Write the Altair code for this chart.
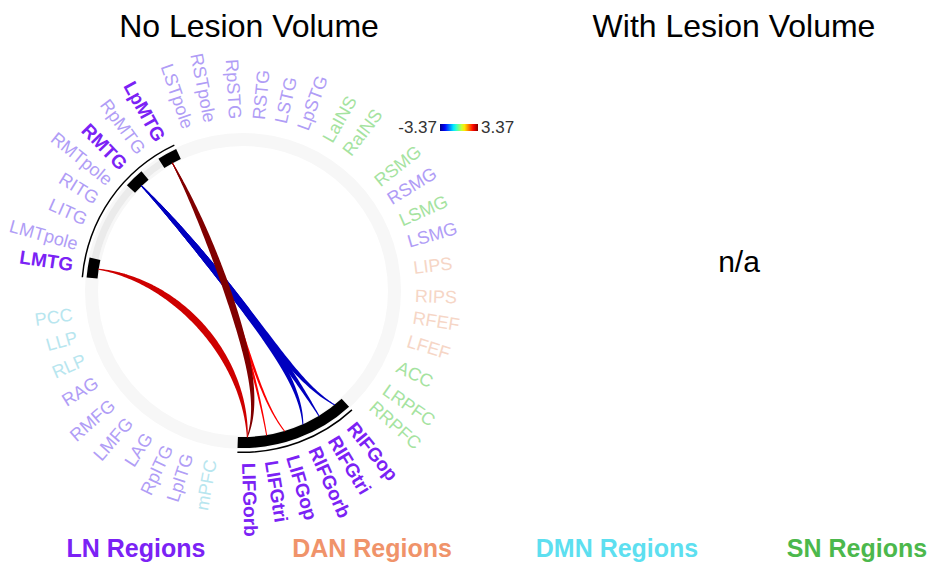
import numpy as np
import pandas as pd
import altair as alt

# ---------------- data ----------------
node_names = ["LMTG", "LMTpole", "LITG", "RITG", "RMTpole", "RMTG", "RpMTG", "LpMTG",
              "LSTpole", "RSTpole", "RpSTG", "RSTG", "LSTG", "LpSTG", "LaINS", "RaINS",
              "RSMG", "RSMG", "LSMG", "LSMG", "LIPS", "RIPS", "RFEF", "LFEF",
              "ACC", "LRPFC", "RRPFC", "RIFGop", "RIFGtri", "RIFGorb", "LIFGop", "LIFGtri",
              "LIFGorb", "mPFC", "LpITG", "RpITG", "LAG", "LMFG", "RMFG", "RAG",
              "RLP", "LLP", "PCC"]
node_network = ["LN"] * 14 + ["SN", "SN", "SN", "LN", "SN", "LN",
                "DAN", "DAN", "DAN", "DAN", "SN", "SN", "SN",
                "LN", "LN", "LN", "LN", "LN", "LN", "DMN",
                "LN", "LN", "LN", "LN", "LN", "LN", "DMN", "DMN", "DMN"]
# angular position of each node around the circle (degrees, counter-clockwise from east)
node_angle = [171.4, 164.6, 156.0, 148.3, 141.0, 134.0, 126.5, 118.9,
              109.0, 101.4, 93.0, 84.4, 77.0, 69.4, 60.3, 52.7,
              38.6, 31.6, 23.7, 16.2, 7.3, -2.0, -9.2, -17.2,
              -26.2, -34.9, -41.7, -51.2, -58.7, -65.8, -73.5, -80.7,
              -88.3, -100.4, -108.3, -115.4, -123.0, -130.9, -139.0, -148.0,
              -156.3, -164.2, -171.8]
involved_nodes = [0, 5, 7, 27, 28, 29, 30, 31, 32]
span_nodes = [(0, 7), (27, 32)]          # highlighted node ranges

edge_src = [5, 5, 5, 7, 7, 7, 0]
edge_tgt = [29, 28, 27, 31, 30, 32, 32]
edge_val = [-2.95, -2.95, -2.95, 2.55, 2.55, 3.37, 2.85]

cmin, cmax = -3.37, 3.37
legend_names = ["LN Regions", "DAN Regions", "DMN Regions", "SN Regions"]

# ---------------- styles ----------------
strong = {"LN": "#7b22f5", "DAN": "#f0936a", "DMN": "#5ddff0", "SN": "#4cb84c"}
light = {"LN": "#b09df6", "DAN": "#f6d6c6", "DMN": "#b8e6ef", "SN": "#a5e3a0"}
FONT = "Liberation Sans"
R_IN, R_OUT = 146.0, 157.0
R_LABEL = 172.0
HALF = 3.7

W, H = 919, 554
CX, CY = 235, 283   # pixel position of the circle centre
xs = alt.Scale(domain=[-CX, W - CX], nice=False, zero=False)
ys = alt.Scale(domain=[CY - H, CY], nice=False, zero=False)
ts = alt.Scale(domain=[0, 360], range=[0, 2 * np.pi])


def vtheta(a):
    return (90.0 - a) % 360.0


# ---------------- nodes / labels ----------------
nodes = pd.DataFrame({"name": node_names, "net": node_network, "ang": node_angle})
nodes["idx"] = range(len(nodes))
nodes["bold"] = nodes["idx"].isin(involved_nodes)
rad = np.deg2rad(nodes["ang"])
nodes["x"] = R_LABEL * np.cos(rad)
nodes["y"] = R_LABEL * np.sin(rad)
nodes["right"] = np.cos(rad) >= -1e-9
nodes["rot"] = np.where(nodes["right"], (-nodes["ang"]) % 360, (180 - nodes["ang"]) % 360)
nodes["col"] = [strong[n] if b else light[n] for n, b in zip(nodes["net"], nodes["bold"])]


def label_layer(right, bold):
    sub = nodes[(nodes["right"] == right) & (nodes["bold"] == bold)]
    return alt.Chart(sub).mark_text(
        align="left" if right else "right", baseline="middle", font=FONT,
        fontSize=19 if bold else 18,
        fontWeight="bold" if bold else "normal"
    ).encode(
        x=alt.X("x:Q", scale=xs, axis=None),
        y=alt.Y("y:Q", scale=ys, axis=None),
        text="name:N",
        angle=alt.Angle("rot:Q", scale=None),
        fill=alt.Fill("col:N", scale=None),
    )


# ---------------- arcs ----------------
ring = pd.DataFrame({"a1": [0.0], "a2": [360.0], "r1": [R_IN - 1], "r2": [R_OUT + 1]})

span_rows = []
for a, b in span_nodes:
    t1 = vtheta(node_angle[a] + HALF)
    t2 = vtheta(node_angle[b] - HALF)
    span_rows.append({"a1": t1, "a2": t2})
spans = pd.DataFrame(span_rows)
spans_band = spans.assign(r1=R_IN + 2, r2=R_OUT - 2)
spans_line = spans.assign(r1=R_OUT + 3.5, r2=R_OUT + 5.0)

# consecutive involved nodes are merged into one continuous block
runs = []
for i in involved_nodes:
    if runs and runs[-1][1] == i - 1:
        runs[-1][1] = i
    else:
        runs.append([i, i])
boxes = pd.DataFrame({
    "a1": [vtheta(node_angle[a] + HALF) for a, b in runs],
    "a2": [vtheta(node_angle[b] - HALF) for a, b in runs],
})
boxes["r1"] = R_IN
boxes["r2"] = R_OUT


def arc_layer(df, color):
    return alt.Chart(df).mark_arc(color=color).encode(
        theta=alt.Theta("a1:Q", scale=ts),
        theta2="a2:Q",
        radius=alt.Radius("r1:Q", scale=None),
        radius2="r2:Q",
        x=alt.value(CX),
        y=alt.value(CY),
    )


# ---------------- chords ----------------
def pt(i, r):
    th = np.deg2rad(node_angle[i])
    return np.array([r * np.cos(th), r * np.sin(th)])


groups = {}
for s, t in zip(edge_src, edge_tgt):
    groups.setdefault(s, []).append(t)

tt = np.linspace(0, 1, 100)
chord_rows = []
for k, (s, t, v) in enumerate(zip(edge_src, edge_tgt, edge_val)):
    A = pt(s, R_IN)
    B = pt(t, R_IN)
    Bm = np.mean([pt(j, R_IN) for j in groups[s]], axis=0)
    P1, P2 = 0.45 * A, 0.45 * Bm
    base = (((1 - tt) ** 3)[:, None] * A + (3 * (1 - tt) ** 2 * tt)[:, None] * P1
            + (3 * (1 - tt) * tt ** 2)[:, None] * P2 + (tt ** 3)[:, None] * Bm)
    curve = base + (tt ** 7)[:, None] * (B - Bm)
    wmax = 7.0 if abs(v) > 2.8 else 3.0
    w = 1.0 + (wmax - 1.0) * np.sin(np.pi * tt)
    for j in range(len(tt)):
        chord_rows.append({"chord": k, "t": tt[j], "x": curve[j, 0], "y": curve[j, 1],
                           "w": w[j], "value": v})
chords = pd.DataFrame(chord_rows)

jet = alt.Scale(domain=[cmin, -2.5275, -0.8425, 0.8425, 2.5275, cmax],
                range=["#000080", "#0000ff", "#00ffff", "#ffff00", "#ff0000", "#800000"],
                interpolate="rgb")

chord_layer = alt.Chart(chords).mark_trail().encode(
    x=alt.X("x:Q", scale=xs, axis=None),
    y=alt.Y("y:Q", scale=ys, axis=None),
    detail="chord:N",
    order="t:Q",
    size=alt.Size("w:Q", scale=None),
    color=alt.Color("value:Q", scale=jet, legend=alt.Legend(
        orient="none", legendX=432, legendY=116, direction="horizontal",
        gradientLength=38, gradientThickness=7, title=None, labelOpacity=0,
        labelFontSize=1, gradientStrokeWidth=0, padding=0)),
)

# ---------------- annotations ----------------
one = pd.DataFrame({"k": [0]})


def text_at(txt, x, y, size, color="black", weight="normal", align="center", baseline="alphabetic"):
    return alt.Chart(one).mark_text(
        text=txt, font=FONT, fontSize=size, fontWeight=weight, color=color,
        align=align, baseline=baseline
    ).encode(x=alt.value(x), y=alt.value(y))


annots = [
    text_at("No Lesion Volume", 241, 29, 32),
    text_at("With Lesion Volume", 726, 29, 32),
    text_at("n/a", 731, 264, 30),
    text_at(f"{cmin:.2f}", 429, 120, 17, color="#333333", align="right", baseline="middle"),
    text_at(f"{cmax:.2f}", 473, 120, 17, color="#333333", align="left", baseline="middle"),
]
leg_x = [128, 364, 609, 849]
for name, net, lx in zip(legend_names, ["LN", "DAN", "DMN", "SN"], leg_x):
    annots.append(text_at(name, lx, 549, 25, color=strong[net], weight="bold"))

layers = [
    arc_layer(ring, "#f7f7f7"),
    arc_layer(spans_band, "#ebebeb"),
    arc_layer(spans_line, "#000000"),
    arc_layer(boxes, "#000000"),
    chord_layer,
    label_layer(True, False), label_layer(False, False),
    label_layer(True, True), label_layer(False, True),
] + annots

chart = alt.layer(*layers).properties(
    width=W, height=H, padding=0,
    autosize=alt.AutoSizeParams(type="none"),
).configure_view(stroke=None)

chart.save("out.html", embed_options={"renderer": "svg", "actions": False})
